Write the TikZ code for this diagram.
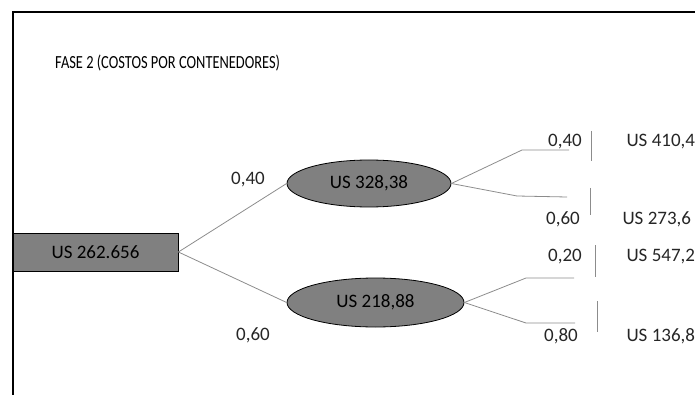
\documentclass[tikz,border=0pt]{standalone}
\usepackage{fontspec}
\setmainfont{Carlito}
\usetikzlibrary{shapes}

\begin{document}
\begin{tikzpicture}[x=1pt,y=-1pt]
\useasboundingbox (0,0) rectangle (695,395);
\draw[line width=1.4pt] (695,12) -- (13,12) -- (13,395);
\node[anchor=west,inner sep=0pt,font=\fontsize{18.5}{20}\selectfont] (T) at (55,63)
    {\scalebox{0.78}[1]{FASE 2 (COSTOS POR CONTENEDORES)}};
\begin{scope}[every node/.style={rectangle,draw,thick,fill=black!50,font=\fontsize{19}{22}\selectfont,
              inner sep=0pt,minimum width=165pt,minimum height=38pt}]
    \node (R) at (95.5,252) {US 262.656};
\end{scope}
\begin{scope}[every node/.style={ellipse,draw,thick,fill=black!50,font=\fontsize{19}{22}\selectfont,
              inner sep=0pt}]
    \node[minimum width=164pt,minimum height=47pt] (U) at (369,183.5) {US 328,38};
    \node[minimum width=177pt,minimum height=49pt] (L) at (375.5,302.5) {US 218,88};
\end{scope}
\begin{scope}[every node/.style={font=\fontsize{19}{22}\selectfont,text=black!85}]
    \node (p1) at (248,180) {0,40};
    \node (p2) at (253,335) {0,60};
    \node (p3) at (565,142) {0,40};
    \node (p4) at (563,219) {0,60};
    \node (p5) at (565,257) {0,20};
    \node (p6) at (561,336) {0,80};
    \node[anchor=west] (v1) at (623,142) {US 410,4};
    \node[anchor=west] (v2) at (619,219) {US 273,6};
    \node[anchor=west] (v3) at (623,257) {US 547,2};
    \node[anchor=west] (v4) at (623,336) {US 136,8};
\end{scope}
% knees and ends of the branches
\coordinate (k1) at (522,150); \coordinate (e1) at (569,150);
\coordinate (k2) at (517,196); \coordinate (e2) at (567,197);
\coordinate (k3) at (526,278); \coordinate (e3) at (574,278);
\coordinate (k4) at (526,323); \coordinate (e4) at (575,323);
\begin{scope}[every path/.style={draw=black!45,line width=0.8pt}]
    \path (R.east) -- (U.west);
    \path (R.east) -- (L.west);
    \path (U.east) -- (k1) -- (e1);
    \path (U.east) -- (k2) -- (e2);
    \path (L.east) -- (k3) -- (e3);
    \path (L.east) -- (k4) -- (e4);
    \path (591,131) -- (591,161);
    \path (590,188) -- (590,215);
    \path (595,245) -- (595,277);
    \path (597,301) -- (597,332);
\end{scope}
\end{tikzpicture}
\end{document}
